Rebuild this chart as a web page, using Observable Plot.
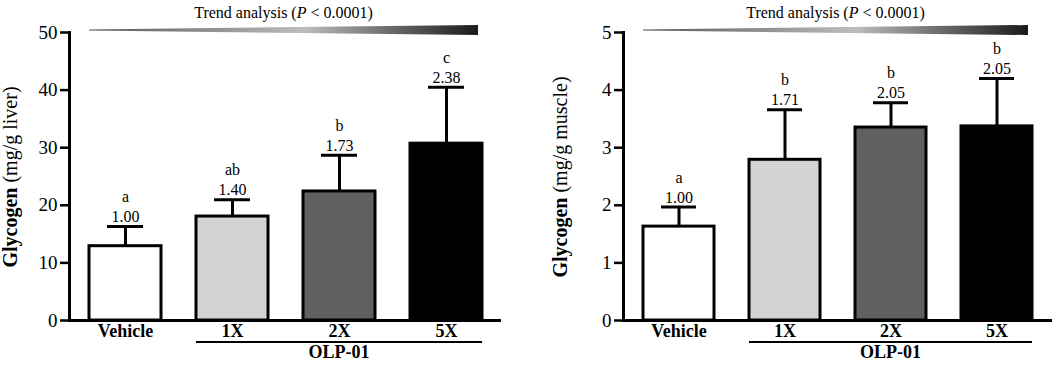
<!DOCTYPE html>
<html><head><meta charset="utf-8">
<script src="https://cdn.jsdelivr.net/npm/d3@7"></script>
<script src="https://cdn.jsdelivr.net/npm/@observablehq/plot@0.6"></script>
<style>
body{margin:0;background:#fff;}
#wrap{display:flex;width:1058px;height:369px;}
svg{display:block;}
</style></head><body><div id="wrap"></div>
<script>
const categories = ["Vehicle", "1X", "2X", "5X"];
const barColors = ["#ffffff", "#d3d3d3", "#606060", "#000000"];
const liverMean = [12.9, 18.05, 22.4, 30.7];
const liverErrTop = [16.3, 20.95, 28.7, 40.5];
const liverFold = ["1.00", "1.40", "1.73", "2.38"];
const liverLetters = ["a", "ab", "b", "c"];
const muscleMean = [1.63, 2.79, 3.35, 3.37];
const muscleErrTop = [1.97, 3.66, 3.78, 4.2];
const muscleFold = ["1.00", "1.71", "2.05", "2.05"];
const muscleLetters = ["a", "b", "b", "b"];
const liverTicks = [0, 10, 20, 30, 40, 50];
const muscleTicks = [0, 1, 2, 3, 4, 5];
const groupLabel = "OLP-01";
const trendText = ["Trend analysis (", "P", " < 0.0001)"];
const FONT = "'Liberation Serif', 'Times New Roman', serif";

function panel(o) {
  const data = categories.map((c, i) => ({cat: c, mean: o.means[i], top: o.tops[i], fold: o.folds[i], letter: o.letters[i], color: barColors[i]}));
  const plot = Plot.plot({
    width: 529, height: 369, marginTop: 32, marginBottom: 49,
    marginLeft: o.marginLeft, marginRight: o.marginRight,
    style: {fontFamily: FONT, fontSize: "18px", color: "#000", background: "#fff", overflow: "visible"},
    x: {domain: categories, paddingInner: 0.33, paddingOuter: 0.175, axis: null},
    y: {domain: [0, o.yMax], axis: null},
    color: {type: "identity"},
    marks: [
      Plot.barY(data, {x: "cat", y: "mean", fill: "color", stroke: "#000", strokeWidth: 3}),
      Plot.ruleX(data, {x: "cat", y1: "mean", y2: "top", stroke: "#000", strokeWidth: 3}),
      Plot.tickY(data, {x: "cat", y: "top", stroke: "#000", strokeWidth: 3, insetLeft: 18, insetRight: 18}),
      Plot.text(data, {x: "cat", y: "top", text: "fold", lineAnchor: "bottom", dy: -4.5, fontSize: 16}),
      Plot.text(data, {x: "cat", y: "top", text: "letter", lineAnchor: "bottom", dy: -24.5, fontSize: 16}),
      Plot.axisY({ticks: o.ticks, tickSize: 9, tickPadding: 3, fontSize: 19, strokeWidth: 2.5, label: null, tickFormat: d => String(d)}),
      Plot.axisX({tickSize: 0, tickPadding: 4, fontSize: 18, fontWeight: "bold", label: null}),
      Plot.frame({anchor: "left", strokeWidth: 3}),
      Plot.ruleY([0], {strokeWidth: 3})
    ]
  });
  const xs = plot.scale("x"), ys = plot.scale("y");
  const bw = xs.bandwidth;
  const svg = d3.select(plot);
  // trend wedge
  const x0 = xs.apply(categories[0]);
  const x1 = xs.apply(categories[categories.length - 1]) + bw - 4;
  const cy = ys.apply(o.yMax) - 2;
  const gid = "grad" + o.id;
  const defs = svg.append("defs");
  const g = defs.append("linearGradient").attr("id", gid).attr("x1", 0).attr("x2", 1).attr("y1", 0).attr("y2", 0);
  [[0, "#555"], [0.55, "#bdbdbd"], [1, "#1a1a1a"]].forEach(([off, c]) => g.append("stop").attr("offset", off).attr("stop-color", c));
  svg.append("polygon")
    .attr("points", [[x0, cy - 0.6], [x1, cy - 5], [x1, cy + 5], [x0, cy + 0.6]].map(p => p.join(",")).join(" "))
    .attr("fill", `url(#${gid})`);
  const t = svg.append("text").attr("x", (x0 + x1) / 2).attr("y", 18).attr("text-anchor", "middle")
    .attr("font-family", FONT).attr("font-size", 16).attr("fill", "#000");
  t.append("tspan").text(trendText[0]);
  t.append("tspan").attr("font-style", "italic").text(trendText[1]);
  t.append("tspan").text(trendText[2]);
  // OLP-01 group line
  const gx0 = xs.apply(categories[1]);
  const gx1 = xs.apply(categories[3]) + bw;
  const gy = ys.apply(0) + 22;
  svg.append("line").attr("x1", gx0).attr("x2", gx1).attr("y1", gy).attr("y2", gy).attr("stroke", "#000").attr("stroke-width", 2);
  svg.append("text").attr("x", (gx0 + gx1) / 2).attr("y", gy + 16).attr("text-anchor", "middle")
    .attr("font-family", FONT).attr("font-size", 18).attr("font-weight", "bold").text(groupLabel);
  // y label
  const yl = svg.append("text").attr("transform", `translate(${o.labelX},${(ys.apply(0) + ys.apply(o.yMax)) / 2 + 1}) rotate(-90)`)
    .attr("text-anchor", "middle").attr("font-family", FONT).attr("font-size", 20).attr("fill", "#000");
  yl.append("tspan").attr("font-weight", "bold").text("Glycogen");
  yl.append("tspan").text(" " + o.unit);
  return plot;
}

const wrap = document.getElementById("wrap");
wrap.appendChild(panel({id: 1, means: liverMean, tops: liverErrTop, folds: liverFold, letters: liverLetters, ticks: liverTicks, yMax: 50, unit: "(mg/g liver)", marginLeft: 69, marginRight: 28, labelX: 16.7}));
wrap.appendChild(panel({id: 2, means: muscleMean, tops: muscleErrTop, folds: muscleFold, letters: muscleLetters, ticks: muscleTicks, yMax: 5, unit: "(mg/g muscle)", marginLeft: 94, marginRight: 6, labelX: 38}));
</script></body></html>
